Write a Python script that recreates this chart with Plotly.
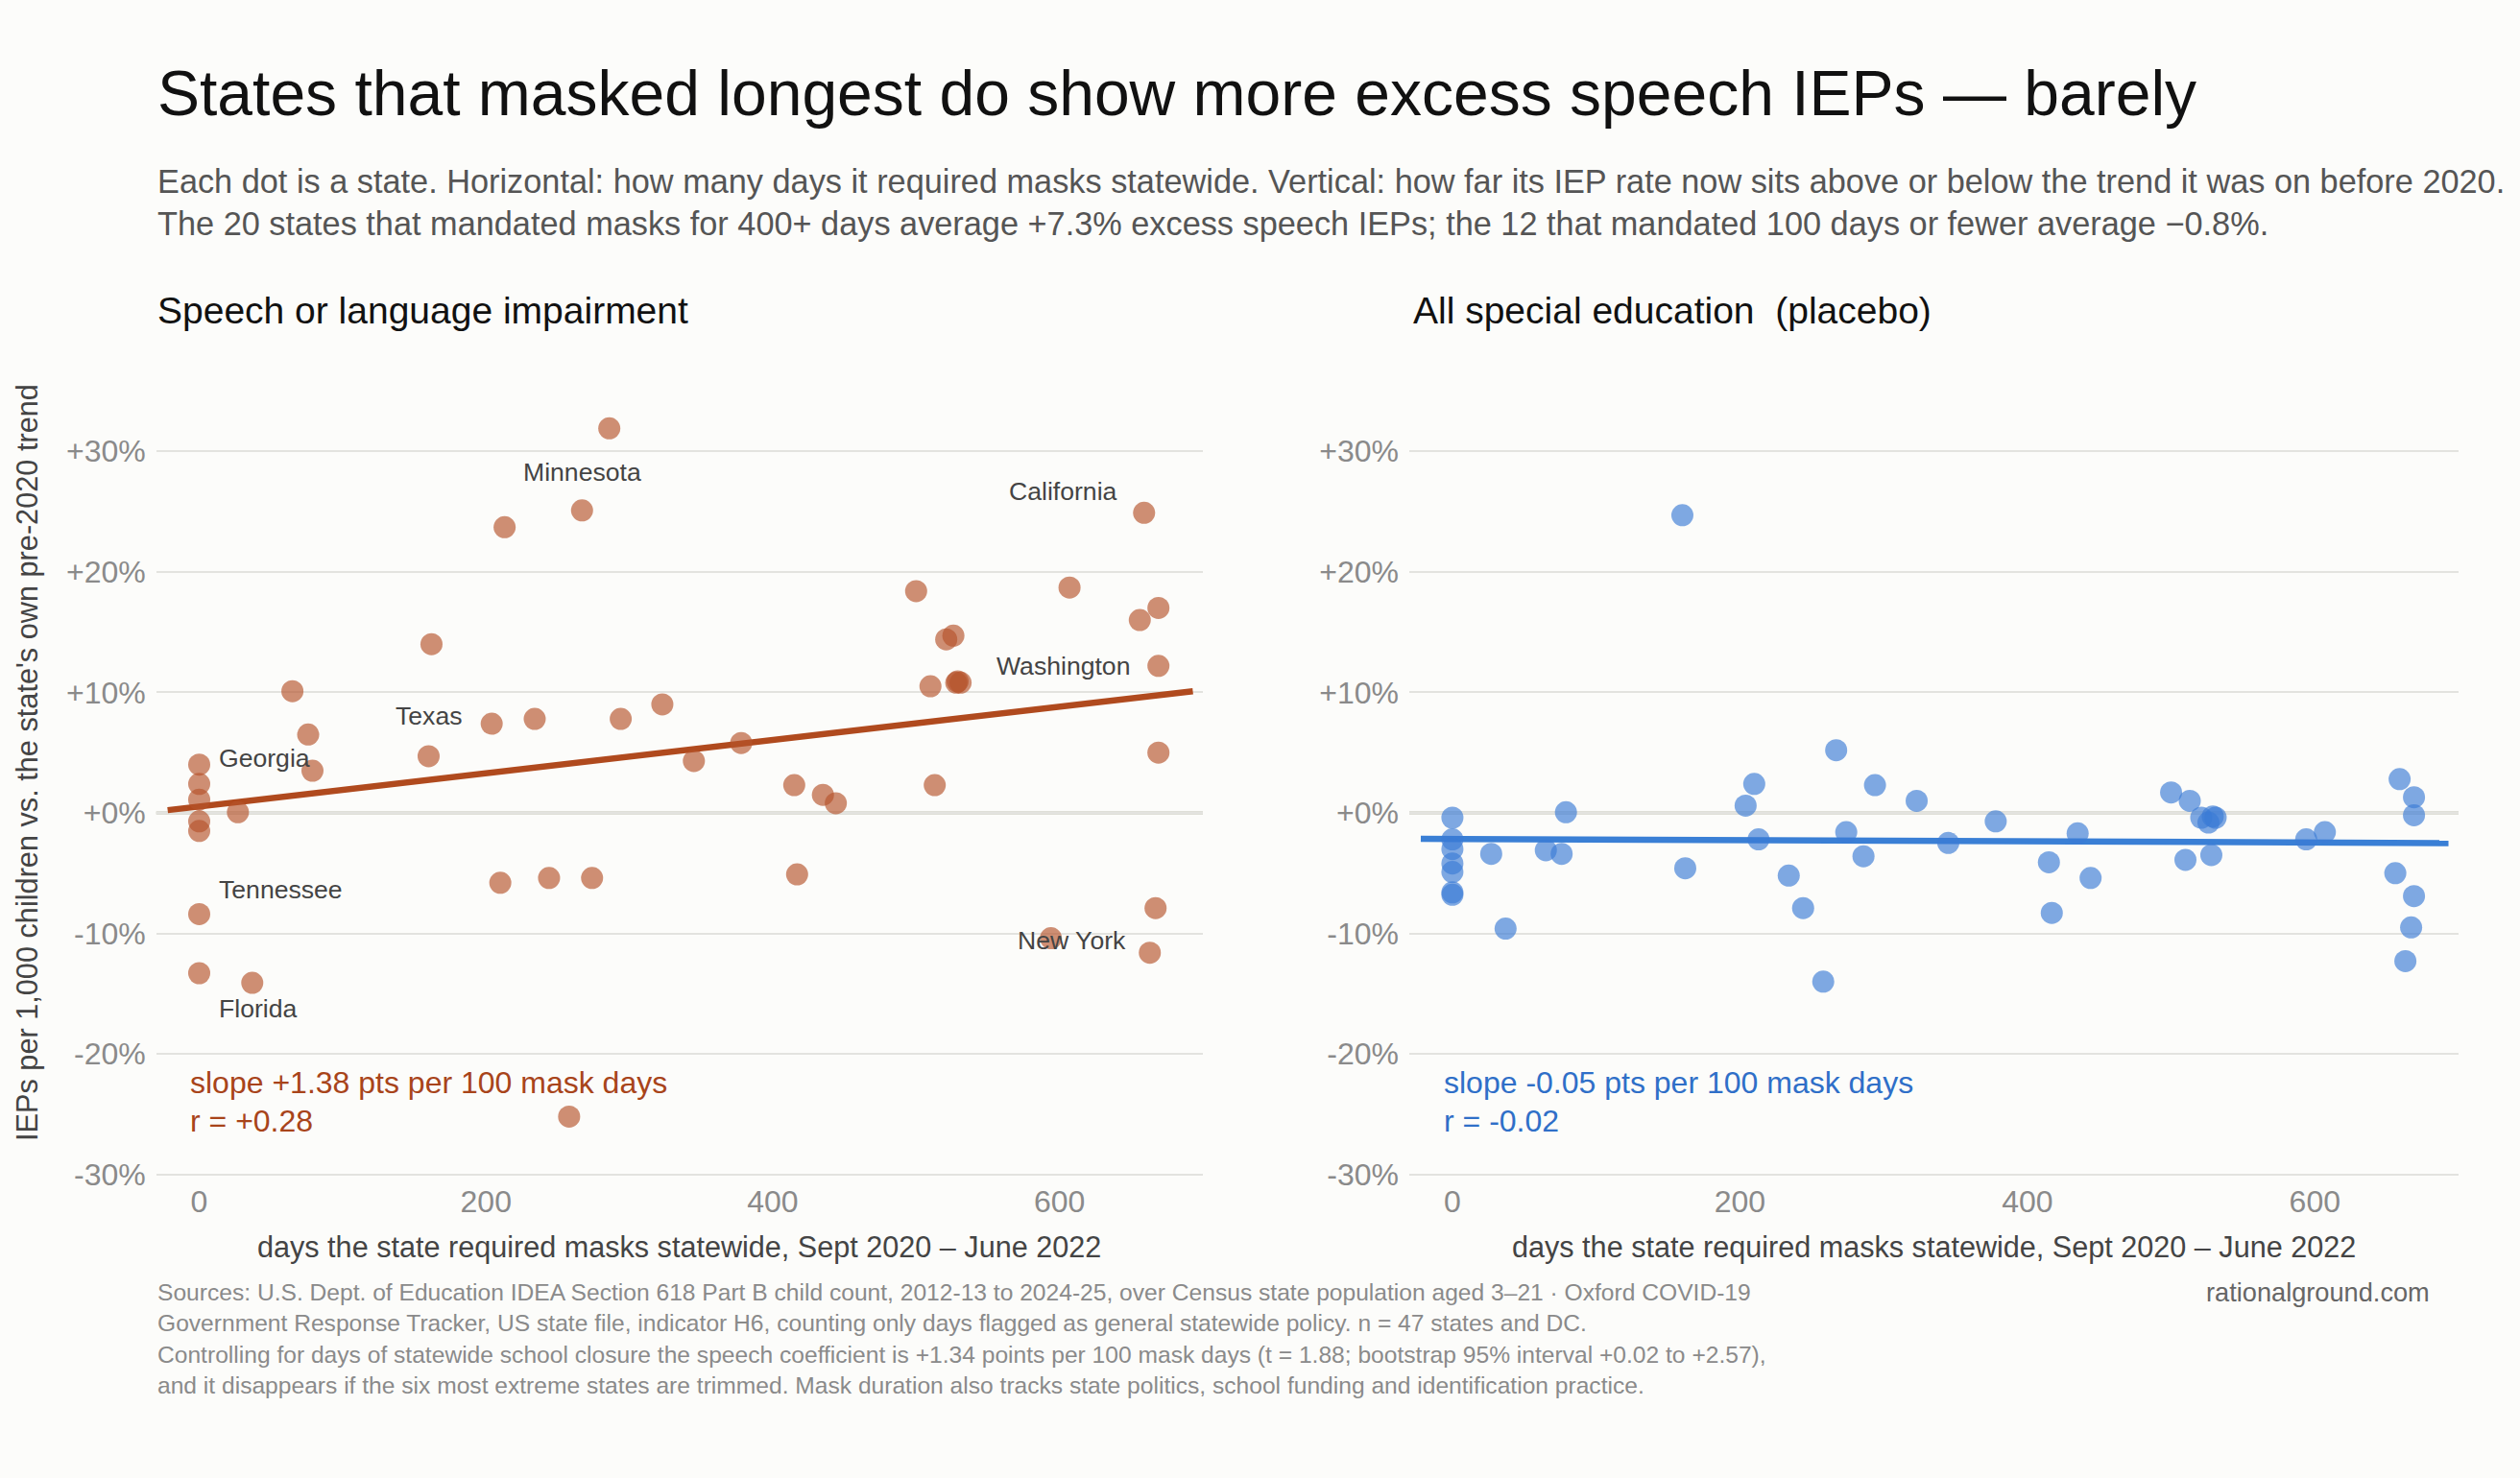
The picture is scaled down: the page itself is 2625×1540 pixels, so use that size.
import plotly.graph_objects as go

# ---------------- data ----------------
mask_days = [0, 0, 0, 0, 0, 0, 0,
             27, 37, 65, 76, 79, 160, 162, 204, 210, 213, 234, 244, 258, 267, 274, 286, 294,
             323, 345, 378, 415, 417, 435, 444, 500, 510, 513, 521, 526, 528, 529, 531, 594, 607,
             656, 659, 663, 667, 669, 669, 669]
speech_excess = [4.0, 2.4, 1.1, -0.7, -1.5, -8.4, -13.3,
                 0.05, -14.1, 10.1, 6.5, 3.5, 4.7, 14.0, 7.4, -5.8, 23.7, 7.8, -5.4, -25.2, 25.1, -5.4, 31.9, 7.8,
                 9.0, 4.3, 5.8, 2.3, -5.1, 1.5, 0.8, 18.4, 10.5, 2.3, 14.4, 14.7, 10.8, 10.9, 10.8, -10.4, 18.7,
                 16.0, 24.9, -11.6, -7.9, 17.0, 12.2, 5.0]
allsped_excess = [-0.4, -2.2, -3.0, -4.2, -4.9, -6.6, -6.8,
                  -3.4, -9.6, -3.1, -3.4, 0.05, 24.7, -4.6, 0.6, 2.4, -2.2, -5.2, -7.9, -14.0, 5.2, -1.6, -3.6, 2.3,
                  1.0, -2.5, -0.7, -4.1, -8.3, -1.7, -5.4, 1.7, -3.9, 1.0, -0.4, -0.8, -3.5, -0.3, -0.4, -2.2, -1.6,
                  -5.0, 2.8, -12.3, -9.5, 1.3, -0.2, -6.9]

# fitted trend lines (slope per day, intercept)
speech_fit = (1.38 / 100, 0.53)
allsped_fit = (-0.05 / 100, -2.16)
fit_x = [-22, 693]

# labelled states: name, index into arrays, xshift, yshift, xanchor
labels = [
    ("Minnesota", 20, 0, 40, "center"),
    ("California", 42, -26, 22, "right"),
    ("Washington", 46, -28, 0, "right"),
    ("Texas", 12, 0, 42, "center"),
    ("Georgia", 0, 18, 7, "left"),
    ("Tennessee", 5, 18, 25, "left"),
    ("Florida", 6, 18, -37, "left"),
    ("New York", 39, -37, -2, "left"),
]

y_ticks = [-30, -20, -10, 0, 10, 20, 30]
y_ticktext = ["-30%", "-20%", "-10%", "+0%", "+10%", "+20%", "+30%"]
x_ticks = [0, 200, 400, 600]

ORANGE = "#b5532b"
ORANGE_LINE = "#b04a1e"
ORANGE_TEXT = "#a8441a"
BLUE = "#3a7bd5"
BLUE_LINE = "#3a7fd5"
BLUE_TEXT = "#2f6fc8"
FONT = "Liberation Sans, Arial, Helvetica, sans-serif"

W, H = 2625, 1540

fig = go.Figure()

for xa, ya, ys, fit, col, lcol in [
    ("x", "y", speech_excess, speech_fit, ORANGE, ORANGE_LINE),
    ("x2", "y2", allsped_excess, allsped_fit, BLUE, BLUE_LINE),
]:
    fig.add_trace(go.Scatter(
        x=fit_x, y=[fit[1] + fit[0] * v for v in fit_x],
        mode="lines", line=dict(color=lcol, width=6.5),
        xaxis=xa, yaxis=ya, showlegend=False, hoverinfo="skip"))
    fig.add_trace(go.Scatter(
        x=mask_days, y=ys, mode="markers",
        marker=dict(size=23, color=col, opacity=0.65, line=dict(width=0)),
        xaxis=xa, yaxis=ya, showlegend=False))

xdom1 = [162.7 / W, 1253 / W]
xdom2 = [1468 / W, 2561 / W]
ydom = [(H - 1230) / H, (H - 420) / H]

axis_common = dict(showline=False, zeroline=False, automargin=False,
                   tickfont=dict(family=FONT, size=32, color="#8a8a8a"))
fig.update_layout(
    xaxis=dict(domain=xdom1, range=[-30, 700], tickvals=x_ticks, showgrid=False,
               ticks="", anchor="y", **axis_common),
    xaxis2=dict(domain=xdom2, range=[-30, 700], tickvals=x_ticks, showgrid=False,
                ticks="", anchor="y2", **axis_common),
    yaxis=dict(domain=ydom, range=[-30.5, 34], tickvals=y_ticks, ticktext=y_ticktext,
               showgrid=True, gridcolor="#e3e3df", gridwidth=2, ticks="", ticklabelstandoff=10,
               anchor="x", **axis_common),
    yaxis2=dict(domain=ydom, range=[-30.5, 34], tickvals=y_ticks, ticktext=y_ticktext,
                showgrid=True, gridcolor="#e3e3df", gridwidth=2, ticks="", ticklabelstandoff=10,
                anchor="x2", **axis_common),
)

# zero lines
for xr, yr in [("x domain", "y"), ("x2 domain", "y2")]:
    fig.add_shape(type="line", xref=xr, yref=yr, x0=0, x1=1, y0=0, y1=0,
                  line=dict(color="#c2c2b6", width=3), layer="below")

ann = []
# title & subtitle
ann.append(dict(text="States that masked longest do show more excess speech IEPs — barely",
                xref="paper", yref="paper", x=162 / W, y=1 - 97 / H, xanchor="left", yanchor="middle",
                showarrow=False, font=dict(family=FONT, size=66, color="#111111")))
ann.append(dict(text="Each dot is a state. Horizontal: how many days it required masks statewide. Vertical: how far its IEP rate now sits above or below the trend it was on before 2020.",
                xref="paper", yref="paper", x=162 / W, y=1 - 189 / H, xanchor="left", yanchor="middle",
                showarrow=False, font=dict(family=FONT, size=34.3, color="#555555")))
ann.append(dict(text="The 20 states that mandated masks for 400+ days average +7.3% excess speech IEPs; the 12 that mandated 100 days or fewer average \u22120.8%.",
                xref="paper", yref="paper", x=162 / W, y=1 - 233 / H, xanchor="left", yanchor="middle",
                showarrow=False, font=dict(family=FONT, size=34.3, color="#555555")))
# panel titles
ann.append(dict(text="Speech or language impairment", xref="paper", yref="paper",
                x=162 / W, y=1 - 323 / H, xanchor="left", yanchor="middle", showarrow=False,
                font=dict(family=FONT, size=39, color="#111111")))
ann.append(dict(text="All special education  (placebo)", xref="paper", yref="paper",
                x=1470 / W, y=1 - 323 / H, xanchor="left", yanchor="middle", showarrow=False,
                font=dict(family=FONT, size=39, color="#111111")))
# axis titles
ann.append(dict(text="IEPs per 1,000 children vs. the state's own pre-2020 trend", xref="paper", yref="paper",
                x=28 / W, y=1 - 795 / H, xanchor="center", yanchor="middle", textangle=-90,
                showarrow=False, font=dict(family=FONT, size=30.7, color="#444444")))
for xc in [(xdom1[0] + xdom1[1]) / 2, (xdom2[0] + xdom2[1]) / 2]:
    ann.append(dict(text="days the state required masks statewide, Sept 2020 \u2013 June 2022",
                    xref="paper", yref="paper", x=xc, y=1 - 1299 / H, xanchor="center", yanchor="middle",
                    showarrow=False, font=dict(family=FONT, size=30.6, color="#444444")))
# stats
for xr, yr, lines, col in [
    ("x domain", "y domain", ["slope +1.38 pts per 100 mask days", "r = +0.28"], ORANGE_TEXT),
    ("x2 domain", "y2 domain", ["slope -0.05 pts per 100 mask days", "r = -0.02"], BLUE_TEXT),
]:
    for i, t in enumerate(lines):
        ann.append(dict(text=t, xref=xr, yref=yr, x=0.031, y=(1230 - (1128 + 40 * i)) / 810,
                        xanchor="left", yanchor="middle", showarrow=False,
                        font=dict(family=FONT, size=32, color=col)))
# state labels
for name, idx, xs, ysh, xan in labels:
    ann.append(dict(text=name, xref="x", yref="y", x=mask_days[idx], y=speech_excess[idx],
                    xshift=xs, yshift=ysh, xanchor=xan, yanchor="middle", showarrow=False,
                    font=dict(family=FONT, size=26.6, color="#444444")))
# footer
footer = [
    "Sources: U.S. Dept. of Education IDEA Section 618 Part B child count, 2012-13 to 2024-25, over Census state population aged 3\u201321 \u00b7 Oxford COVID-19",
    "Government Response Tracker, US state file, indicator H6, counting only days flagged as general statewide policy. n = 47 states and DC.",
    "Controlling for days of statewide school closure the speech coefficient is +1.34 points per 100 mask days (t = 1.88; bootstrap 95% interval +0.02 to +2.57),",
    "and it disappears if the six most extreme states are trimmed. Mask duration also tracks state politics, school funding and identification practice.",
]
for i, t in enumerate(footer):
    ann.append(dict(text=t, xref="paper", yref="paper", x=162 / W, y=1 - (1346 + 32.5 * i) / H,
                    xanchor="left", yanchor="middle", showarrow=False,
                    font=dict(family=FONT, size=24.6, color="#8a8a8a")))
ann.append(dict(text="rationalground.com", xref="paper", yref="paper", x=2533 / W, y=1 - 1346 / H,
                xanchor="right", yanchor="middle", showarrow=False,
                font=dict(family=FONT, size=27.2, color="#666666")))

fig.update_layout(
    annotations=ann,
    width=W, height=H,
    margin=dict(l=0, r=0, t=0, b=0),
    paper_bgcolor="#fcfcfa", plot_bgcolor="#fcfcfa",
    font=dict(family=FONT),
    showlegend=False,
)

fig.write_html("out.html", config={"displayModeBar": False},
               post_script="document.body.style.margin='0';document.body.style.background='#fcfcfa';")
